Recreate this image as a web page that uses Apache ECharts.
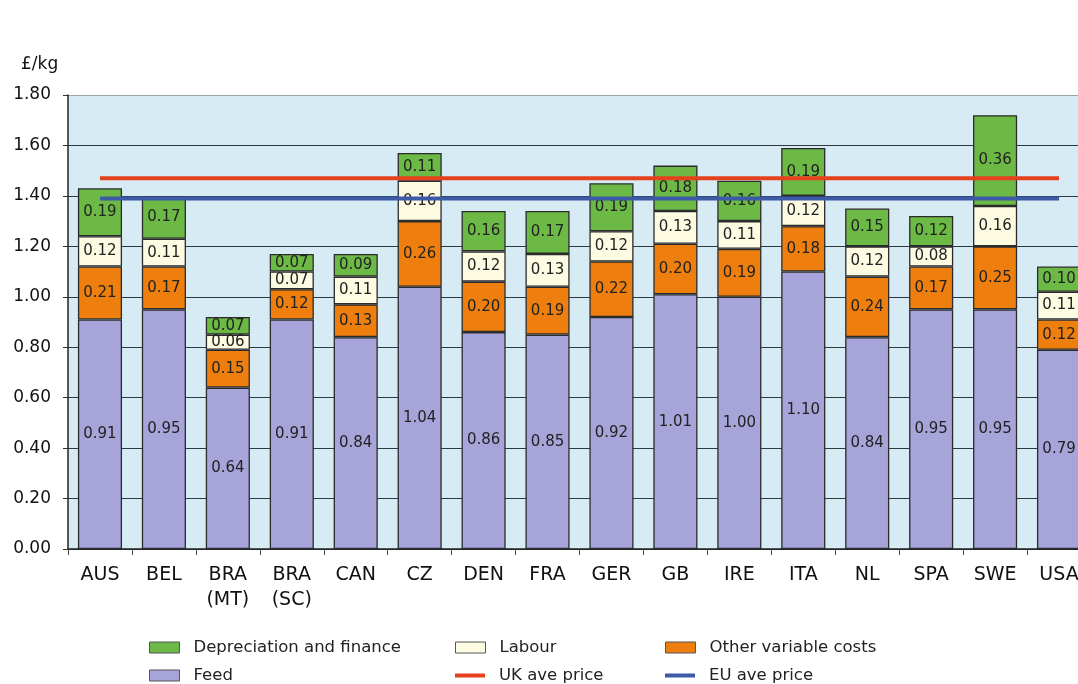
<!DOCTYPE html>
<html>
<head>
<meta charset="utf-8">
<script src="https://cdn.jsdelivr.net/npm/echarts@6/dist/echarts.min.js"></script>
<style>html,body{margin:0;padding:0;background:#fff;overflow:hidden;}#chart{width:1078px;height:684px;}</style>
</head>
<body>
<div id="chart"></div>
<script>
const categories = ['AUS','BEL','BRA\n(MT)','BRA\n(SC)','CAN','CZ','DEN','FRA','GER','GB','IRE','ITA','NL','SPA','SWE','USA'];
const feed      = [0.91,0.95,0.64,0.91,0.84,1.04,0.86,0.85,0.92,1.01,1.00,1.10,0.84,0.95,0.95,0.79];
const otherVar  = [0.21,0.17,0.15,0.12,0.13,0.26,0.20,0.19,0.22,0.20,0.19,0.18,0.24,0.17,0.25,0.12];
const labour    = [0.12,0.11,0.06,0.07,0.11,0.16,0.12,0.13,0.12,0.13,0.11,0.12,0.12,0.08,0.16,0.11];
const deprec    = [0.19,0.17,0.07,0.07,0.09,0.11,0.16,0.17,0.19,0.18,0.16,0.19,0.15,0.12,0.36,0.10];
const ukPrice   = categories.map(() => 1.47);
const euPrice   = categories.map(() => 1.39);
const yTicks    = ['0.00','0.20','0.40','0.60','0.80','1.00','1.20','1.40','1.60','1.80'];

const FONT = '"DejaVu Sans", Verdana, sans-serif';
const colors = {
  dep: '#6cb946', lab: '#fdfbe2', oth: '#ee7f0e', feed: '#a6a4d9', uk: '#e5411d', eu: '#3c5aa6'
};
function barSeries(name, data, color) {
  return {
    name, type: 'bar', stack: 'cost', data, barWidth: '69%',
    itemStyle: { color, borderColor: '#2b2b2b', borderWidth: 1.3 },
    label: { show: true, position: 'inside', color: '#222', fontSize: 15, fontFamily: FONT,
             formatter: p => p.value.toFixed(2) }
  };
}
function lineSeries(name, data, color) {
  return {
    name, type: 'line', data, showSymbol: false, symbol: 'none', z: 5,
    lineStyle: { color, width: 4 }, itemStyle: { color }
  };
}
const legendBase = { orient: 'horizontal', itemWidth: 30, itemHeight: 11, itemGap: 10, padding: 0, icon: 'rect',
  itemStyle: { borderColor: '#555', borderWidth: 1 },
  textStyle: { fontSize: 16.5, color: '#222', fontFamily: FONT, padding: [0, 0, 0, 9] }, selectedMode: false };
const chart = echarts.init(document.getElementById('chart'));
chart.setOption({
  animation: false,
  textStyle: { fontFamily: FONT },
  title: { text: '£/kg', left: 16, top: 51, textStyle: { fontSize: 17, fontWeight: 'normal', color: '#111', fontFamily: FONT } },
  grid: { left: 68, right: -13, top: 95, bottom: 135, show: true, backgroundColor: '#d7ebf5', borderWidth: 0,
          outerBoundsMode: 'none', containLabel: false },
  legend: [
    Object.assign({}, legendBase, { data: ['Depreciation and finance'], left: 149, top: 639 }),
    Object.assign({}, legendBase, { data: ['Labour'], left: 455, top: 639 }),
    Object.assign({}, legendBase, { data: ['Other variable costs'], left: 665, top: 639 }),
    Object.assign({}, legendBase, { data: ['Feed'], left: 149, top: 667 }),
    Object.assign({}, legendBase, { data: ['UK ave price'], left: 455, top: 667, itemHeight: 4, itemStyle: { borderWidth: 0 } }),
    Object.assign({}, legendBase, { data: ['EU ave price'], left: 665, top: 667, itemHeight: 4, itemStyle: { borderWidth: 0 } })
  ],
  xAxis: {
    type: 'category', data: categories,
    axisLine: { show: true, lineStyle: { color: '#222', width: 1.5 } },
    axisTick: { show: true, length: 6, lineStyle: { color: '#444' } },
    axisLabel: { fontSize: 19, color: '#111', margin: 14, lineHeight: 25, fontFamily: FONT, interval: 0 }
  },
  yAxis: {
    type: 'value', min: 0, max: 1.8, interval: 0.2,
    axisLine: { show: true, lineStyle: { color: '#222', width: 1.5 } },
    axisTick: { show: true, length: 5, lineStyle: { color: '#333' } },
    axisLabel: { fontSize: 17, color: '#111', margin: 17, fontFamily: FONT,
                 formatter: v => yTicks[Math.round(v / 0.2)] },
    splitLine: { show: true, lineStyle: { width: 1.2,
      color: ['#2f3a40','#2f3a40','#2f3a40','#2f3a40','#2f3a40','#2f3a40','#2f3a40','#2f3a40','#2f3a40','#9aa5ab'] } }
  },
  series: [
    barSeries('Feed', feed, colors.feed),
    barSeries('Other variable costs', otherVar, colors.oth),
    barSeries('Labour', labour, colors.lab),
    barSeries('Depreciation and finance', deprec, colors.dep),
    lineSeries('UK ave price', ukPrice, colors.uk),
    lineSeries('EU ave price', euPrice, colors.eu)
  ]
});
</script>
</body>
</html>
